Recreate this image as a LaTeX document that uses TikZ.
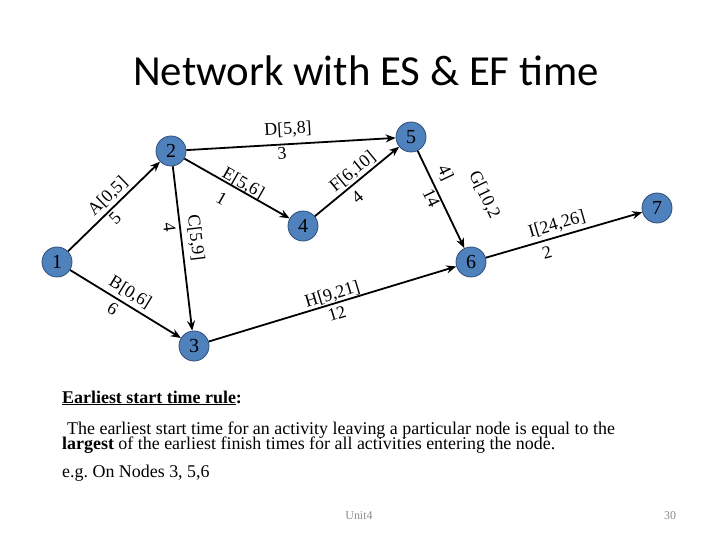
\documentclass[tikz,border=0pt]{standalone}
\usepackage{fontspec}
\setmainfont{Liberation Serif}
\newfontfamily\titlefont{Carlito}
\usetikzlibrary{arrows.meta}
\definecolor{nodeblue}{HTML}{4F81BD}
\definecolor{nodeborder}{HTML}{2F4F7A}
\definecolor{footgray}{HTML}{8C8C8C}
\frenchspacing
\begin{document}
\begin{tikzpicture}[x=1bp,y=-1bp,
  evnode/.style={circle, fill=nodeblue, draw=nodeborder, line width=0.8bp,
    minimum size=30bp, inner sep=0pt, font=\fontsize{20}{20}\selectfont},
  act/.style={-{Stealth[length=10bp,width=8bp]}, line width=1.8bp},
  lab/.style={sloped, font=\fontsize{18}{18}\selectfont, inner xsep=0bp, anchor=south},
  dur/.style={sloped, font=\fontsize{18}{18}\selectfont, inner xsep=0bp, anchor=north},
  bodytext/.style={anchor=base west, inner sep=0pt, font=\fontsize{18}{18}\selectfont}]
\useasboundingbox (0,0) rectangle (720,540);

\node[font=\titlefont\fontsize{43}{43}\selectfont] (title) at (366,71) {Network with ES \& EF time};

\node[evnode] (n1) at (57,262) {1};
\node[evnode] (n2) at (171,151) {2};
\node[evnode] (n3) at (194,346) {3};
\node[evnode] (n4) at (303,226) {4};
\node[evnode] (n5) at (411,137) {5};
\node[evnode] (n6) at (471,262) {6};
\node[evnode] (n7) at (657,208) {7};

\draw[act] (n1) -- node[lab, pos=0.52, inner ysep=2.8bp] {A[0,5]} node[dur, pos=0.44, inner ysep=2.5bp] {5} (n2);
\draw[act] (n1) -- node[lab, pos=0.485, inner ysep=3.5bp] {B[0,6]} node[dur, pos=0.435, inner ysep=3.5bp] {6} (n3);
\draw[act] (n2) -- node[lab, pos=0.446, inner ysep=5.5bp] {C[5,9]} node[dur, pos=0.363, inner ysep=3.5bp] {4} (n3);
\draw[act] (n2) -- node[lab, pos=0.49, inner ysep=6bp] {D[5,8]} node[dur, pos=0.455, inner ysep=1.5bp] {3} (n5);
\draw[act] (n2) -- node[lab, pos=0.525, inner ysep=-1.5bp] {E[5,6]} node[dur, pos=0.43, inner ysep=9.5bp] {1} (n4);
\draw[act] (n4) -- node[lab, pos=0.527, inner ysep=1.7bp] {F[6,10]} node[dur, pos=0.41, inner ysep=5.5bp] {4} (n5);
\draw[act] (n5) -- node[lab, pos=0.296, inner ysep=6.8bp] {4]} node[dur, pos=0.446, inner ysep=1bp] {14} node[lab, pos=0.634, inner ysep=32.5bp] {G[10,2} (n6);
\draw[act] (n3) -- node[lab, pos=0.51, inner ysep=0.3bp] {H[9,21]} node[dur, pos=0.506, inner ysep=3.5bp] {12} (n6);
\draw[act] (n6) -- node[lab, pos=0.476, inner ysep=3.4bp] {I[24,26]} node[dur, pos=0.37, inner ysep=5.3bp] {2} (n7);

\node[bodytext, font=\fontsize{18}{18}\selectfont\bfseries] (rule) at (62,403) {\underline{Earliest start time rule}:};
\node[bodytext] (body1) at (67,434) {The earliest start time for an activity leaving a particular node is equal to the};
\node[bodytext] (body2) at (62,449) {\textbf{largest} of the earliest finish times for all activities entering the node.};
\node[bodytext] (eg) at (62,477) {e.g. On Nodes 3, 5,6};

\node[font=\fontsize{12}{12}\selectfont, text=footgray] (unit) at (359,516) {Unit4};
\node[font=\fontsize{12}{12}\selectfont, text=footgray] (pg) at (670,516) {30};
\end{tikzpicture}
\end{document}
